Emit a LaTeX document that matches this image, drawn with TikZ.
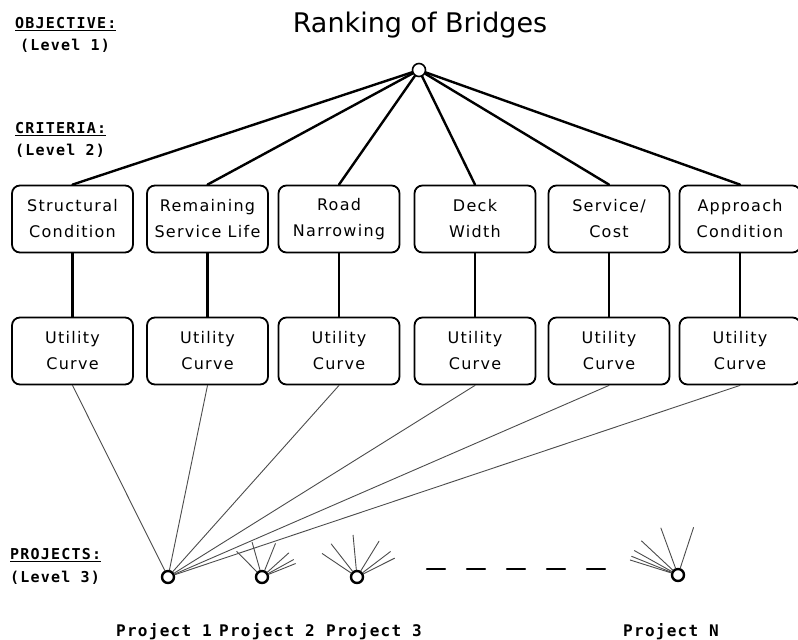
\documentclass[tikz,border=0pt]{standalone}
\usepackage{fontspec}
\setmainfont{DejaVu Sans}
\newfontfamily\levelfont[LetterSpace=8]{DejaVu Sans Mono}
\newfontfamily\boxfont[LetterSpace=8]{DejaVu Sans}
\usetikzlibrary{calc}

\begin{document}
\begin{tikzpicture}[x=1pt,y=-1pt,line cap=round,line join=round]
\useasboundingbox (0,0) rectangle (798,640);
\path[fill=white] (0,0) rectangle (798,640);
\tikzset{crit/.style={draw,line width=1.8pt,rounded corners=8pt,minimum width=121pt,minimum height=67pt,inner sep=0pt,align=center,font=\boxfont\fontsize{16}{26}\selectfont},heavy/.style={draw,line width=2.4pt},feed/.style={draw=black!70,line width=0.9pt},hub/.style={circle,draw,line width=1.6pt,minimum size=13pt,inner sep=0pt},proj/.style={circle,draw,line width=2.4pt,minimum size=12pt,inner sep=0pt},level/.style={anchor=west,inner sep=0pt,font=\levelfont\bfseries\fontsize{15}{17}\selectfont},projlabel/.style={inner sep=0pt,font=\levelfont\bfseries\fontsize{16}{18}\selectfont}}
\node (title) at (420,25) {\fontsize{27}{30}\selectfont Ranking of Bridges};
\node[hub] (goal) at (419,70) {};
\node[level] (objlab) at (15,24) {\underline{OBJECTIVE:}};
\node[level] (lev1) at (20,46) {(Level 1)};
\node[level] (critlab) at (15,129) {\underline{CRITERIA:}};
\node[level] (lev2) at (15,151) {(Level 2)};
\node[level] (projlab) at (10,555) {\underline{PROJECTS:}};
\node[level] (lev3) at (10,578) {(Level 3)};
\node[crit] (c1) at (72.5,219) {Structural\\Condition};
\node[crit] (c2) at (207.5,219) {Remaining\\Service Life};
\node[crit] (c3) at (339,219) {Road\\Narrowing};
\node[crit] (c4) at (475,219) {Deck\\Width};
\node[crit] (c5) at (609,219) {Service/\\Cost};
\node[crit] (c6) at (740,219) {Approach\\Condition};
\foreach \x [count=\i] in {72.5,207.5,339,475,609,740} \node[crit] (u\i) at (\x,351) {Utility\\Curve};
\node[proj] (p1) at (168,577) {};
\node[proj] (p2) at (262,577) {};
\node[proj] (p3) at (357,577) {};
\node[proj] (pn) at (678,575) {};
\foreach \i in {1,...,6} {
  \draw[heavy] (goal) -- (c\i.north);
  \draw[heavy] (c\i) -- (u\i);
  \draw[feed] (u\i.south) -- (p1);
}
\foreach \p/\len in {p2/36,p3/42,pn/50} \foreach \i in {1,...,6} \draw[feed] (\p) -- ($(\p)!\len pt!(u\i.south)$);
\foreach \k in {0,...,4} \draw[heavy] (427+40*\k,569) -- (445+40*\k,569);
\node[projlabel] (l1) at (164,632) {Project 1};
\node[projlabel] (l2) at (267,632) {Project 2};
\node[projlabel] (l3) at (374,632) {Project 3};
\node[projlabel] (ln) at (671,632) {Project N};
\end{tikzpicture}
\end{document}
